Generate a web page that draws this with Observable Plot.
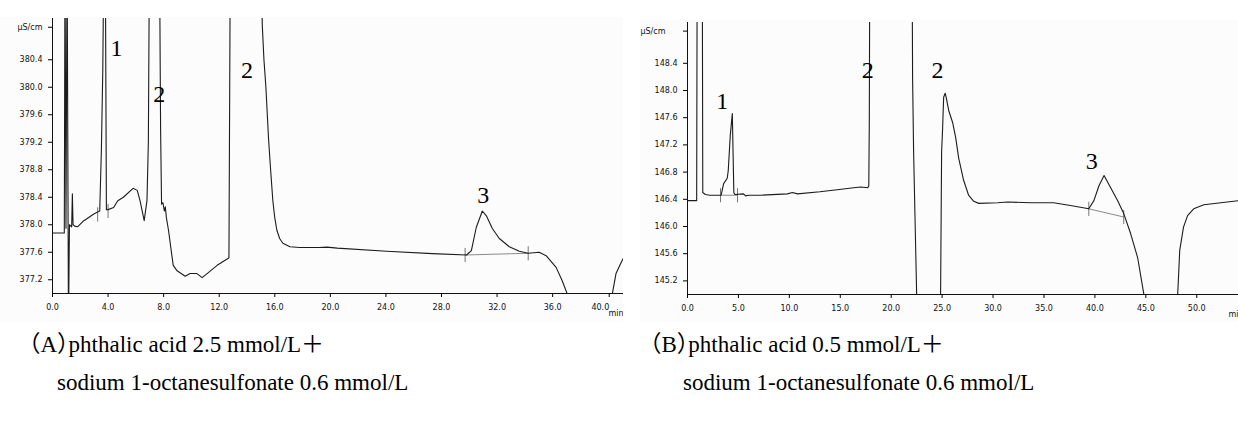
<!DOCTYPE html>
<html><head><meta charset="utf-8">
<script src="https://cdn.jsdelivr.net/npm/d3@7"></script>
<script src="https://cdn.jsdelivr.net/npm/@observablehq/plot@0.6"></script>
<style>
html,body{margin:0;padding:0;background:#fff;}
body{width:1238px;height:423px;overflow:hidden;position:relative;}
#chartA{position:absolute;left:0;top:17px;}
#chartB{position:absolute;left:640px;top:20px;}
.cap{position:absolute;font-family:"Liberation Serif","Noto Sans CJK SC",serif;font-size:23px;color:#000;white-space:nowrap;line-height:30px;font-feature-settings:"halt";}
</style></head><body>
<div id="chartA"></div><div id="chartB"></div>
<div class="cap" id="capA1" style="left:29px;top:330px"></div>
<div class="cap" id="capA2" style="left:57px;top:368px"></div>
<div class="cap" id="capB1" style="left:650px;top:330px"></div>
<div class="cap" id="capB2" style="left:683px;top:368px"></div>
<script>
// ---------- Chart A : phthalic acid 2.5 mmol/L ----------
const xTicksA = [0, 4, 8, 12, 16, 20, 24, 28, 32, 36];
const xLastTickA = [40];
const yTicksA = [377.2, 377.6, 378.0, 378.4, 378.8, 379.2, 379.6, 380.0, 380.4];
const unitTickA = [380.8];
const timeA = [0, 0.85, 0.9, 0.97, 1.05, 1.15, 1.22, 1.38, 1.43, 1.48, 1.6, 1.8, 2.2, 2.5, 3.0, 3.4,
  3.52, 3.62, 3.7, 3.8, 3.88, 4.0, 4.4, 4.7, 5.1, 5.8, 6.1, 6.3, 6.6, 6.8, 6.9, 6.98,
  7.7, 7.78, 7.85, 7.95, 8.05, 8.12, 8.2, 8.35, 8.54, 8.69, 8.97, 9.55, 9.9, 10.4, 10.77, 11.13, 11.85, 12.63, 12.7, 12.8,
  15.0, 15.1, 15.22, 15.36, 15.55, 15.7, 15.86, 16.0, 16.15, 16.35, 16.58, 17.09, 17.8, 19.2, 19.75, 20.5,
  24.05, 27.35, 29.8, 30.15, 30.5, 30.94, 31.23, 31.66, 32.16, 32.88, 33.6, 34.24, 35.03, 35.53, 36.25, 36.68, 37.04, 37.3,
  40.1, 40.3, 40.56, 41.0, 41.2];
const signalA = [377.88, 377.88, 382, 377.95, 382, 376.5, 378.0, 377.97, 378.45, 378.0, 377.98, 377.97, 378.05, 378.09, 378.16, 378.2,
  379.1, 380.25, 382, 382, 378.22, 378.22, 378.25, 378.35, 378.4, 378.53, 378.5, 378.35, 378.06, 378.35, 379.2, 382,
  382, 379.4, 378.3, 378.32, 378.2, 378.26, 378.1, 377.92, 377.63, 377.41, 377.33, 377.25, 377.29, 377.29, 377.23, 377.29, 377.41, 377.51, 377.52, 382,
  382, 380.9, 380.4, 380.0, 379.25, 378.8, 378.35, 378.1, 377.92, 377.8, 377.73, 377.68, 377.67, 377.67, 377.675, 377.66,
  377.615, 377.58, 377.56, 377.625, 377.96, 378.2, 378.13, 377.945, 377.8, 377.68, 377.615, 377.586, 377.6, 377.55, 377.38, 377.19, 377.0, 376.6,
  376.6, 377.0, 377.29, 377.48, 377.55];
const markTimeA = [3.25, 4.0, 29.7, 34.24];
const markSignalA = [378.15, 378.2, 377.56, 377.585];
const baseTimeA = [29.7, 34.24];
const baseSignalA = [377.56, 377.585];
const peakNameA = ["1", "2", "2", "3"];
const peakTimeA = [4.6, 7.68, 14.0, 31.0];
const peakSignalA = [380.56, 379.9, 380.24, 378.43];

// ---------- Chart B : phthalic acid 0.5 mmol/L ----------
const xTicksB = [0, 5, 10, 15, 20, 25, 30, 35, 40, 45, 50];
const yTicksB = [145.2, 145.6, 146.0, 146.4, 146.8, 147.2, 147.6, 148.0, 148.4];
const unitTickB = [148.8];
const timeB = [0, 0.9, 0.95, 1.45, 1.5, 1.75, 2.2, 3.3, 3.55, 3.9, 4.0, 4.2, 4.4, 4.55, 4.65, 5.5, 5.7, 6.0, 7.2, 9.8, 10.3, 10.8,
  13.0, 14.7, 16.3, 17.0, 17.7, 17.8, 17.82, 17.85, 17.9, 22.05, 22.1, 22.2, 22.5, 22.6, 24.8, 24.85, 24.95, 25.05, 25.15, 25.3, 25.4,
  25.64, 26.03, 26.33, 26.62, 27.11, 27.6, 28.1, 28.6, 30.45, 31.4, 33.7, 35.95, 37.6, 39.4, 39.9, 40.4, 40.9, 41.55, 42.24, 42.83,
  43.5, 44.2, 44.8, 45.1, 47.9, 48.13, 48.33, 48.7, 49.1, 49.7, 50.7, 52.36, 54.1];
const signalB = [146.38, 146.38, 150, 150, 146.5, 146.47, 146.46, 146.46, 146.63, 146.71, 146.82, 147.34, 147.66, 146.5, 146.47, 146.48, 146.45, 146.46, 146.46, 146.48, 146.5, 146.48,
  146.51, 146.54, 146.57, 146.58, 146.57, 146.6, 146.97, 147.51, 150, 150, 148.2, 147.1, 145.0, 144.5, 144.5, 145.0, 147.1, 147.45, 147.9, 147.96, 147.9,
  147.71, 147.53, 147.31, 147.01, 146.68, 146.46, 146.37, 146.34, 146.35, 146.36, 146.35, 146.35, 146.31, 146.26, 146.38, 146.6, 146.75, 146.57, 146.38, 146.19,
  145.9, 145.54, 145.01, 144.6, 144.6, 145.0, 145.65, 145.99, 146.16, 146.26, 146.32, 146.35, 146.38];
const markTimeB = [3.24, 4.91, 39.4, 42.83];
const markSignalB = [146.46, 146.46, 146.26, 146.14];
const baseTimeB1 = [3.24, 4.91];
const baseSignalB1 = [146.46, 146.46];
const baseTimeB3 = [39.4, 42.83];
const baseSignalB3 = [146.26, 146.14];
const peakNameB = ["1", "2", "2", "3"];
const peakTimeB = [3.4, 17.7, 24.55, 39.7];
const peakSignalB = [147.84, 148.29, 148.29, 146.96];

const captionA = ["（A）phthalic acid 2.5 mmol/L＋", "sodium 1-octanesulfonate 0.6 mmol/L"];
const captionB = ["（B）phthalic acid 0.5 mmol/L＋", "sodium 1-octanesulfonate 0.6 mmol/L"];

// ---------- helpers ----------
const vtick = {draw(ctx, size) { const h = Math.sqrt(size); ctx.moveTo(0, -h); ctx.lineTo(0, h); }};
const zip = (xs, ys) => xs.map((x, i) => ({x, y: ys[i]}));
const axisFont = {fontSize: 8, fill: "#111", label: null};

function chromatogram(cfg) {
  const trace = zip(cfg.time, cfg.signal);
  const peaks = cfg.peakName.map((n, i) => ({n, x: cfg.peakTime[i], y: cfg.peakSignal[i]}));
  const marks = [
    Plot.ruleX([cfg.xDomain[0]], {stroke: "#111", strokeWidth: 1}),
    Plot.ruleY([cfg.yDomain[0]], {stroke: "#111", strokeWidth: 1}),
    Plot.axisY({ticks: cfg.yTicks, tickSize: 4, tickPadding: 6, tickFormat: d => d.toFixed(1), ...axisFont}),
    Plot.axisY({ticks: cfg.unitTick, tickSize: 4, tickPadding: 6 + cfg.unitDx, tickFormat: () => "μS/cm", dy: -5, ...axisFont}),
    Plot.axisX({ticks: cfg.xTicks, tickSize: 4, tickPadding: 7, tickFormat: d => d.toFixed(1), ...axisFont}),
    ...cfg.extraMarks,
    Plot.text(["min"], {frameAnchor: "bottom-right", textAnchor: cfg.minAnchor, dx: cfg.minDx, dy: 22, fontSize: 8, fill: "#111"}),
    ...cfg.baselines.map(b => Plot.line(zip(b[0], b[1]), {x: "x", y: "y", stroke: "#8a8a8a", strokeWidth: 1, clip: true})),
    Plot.dot(zip(cfg.markTime, cfg.markSignal), {x: "x", y: "y", symbol: vtick, r: 4, stroke: "#777", fill: "none", strokeWidth: 1}),
    Plot.line(trace, {x: "x", y: "y", stroke: "#1c1c1c", strokeWidth: 1.1, clip: true}),
    Plot.text(peaks, {x: "x", y: "y", text: "n", fontSize: 24, fontFamily: "Liberation Serif, serif", fill: "#000"})
  ];
  return Plot.plot({
    width: cfg.width, height: cfg.height,
    marginLeft: cfg.ml, marginRight: cfg.mr, marginTop: cfg.mt, marginBottom: cfg.mb,
    style: {background: "#fcfcfc", fontFamily: "DejaVu Sans, sans-serif", overflow: "hidden"},
    x: {domain: cfg.xDomain, label: null},
    y: {domain: cfg.yDomain, label: null},
    marks
  });
}

const plotA = chromatogram({
  time: timeA, signal: signalA, xDomain: [0, 41.1], yDomain: [377.0, 381.0],
  xTicks: xTicksA, yTicks: yTicksA, unitTick: unitTickA, unitDx: 0,
  extraMarks: [Plot.axisX({ticks: xLastTickA, tickSize: 4, tickPadding: 7, textAnchor: "end", dx: 1, tickFormat: d => d.toFixed(1), ...axisFont})],
  markTime: markTimeA, markSignal: markSignalA, baselines: [[baseTimeA, baseSignalA]],
  peakName: peakNameA, peakTime: peakTimeA, peakSignal: peakSignalA,
  minAnchor: "end", minDx: 0,
  width: 623, height: 305, ml: 52, mr: 0, mt: 1, mb: 29
});
document.getElementById("chartA").appendChild(plotA);

const plotB = chromatogram({
  time: timeB, signal: signalB, xDomain: [0, 54.1], yDomain: [145.0, 149.0],
  xTicks: xTicksB, yTicks: yTicksB, unitTick: unitTickB, unitDx: 12,
  extraMarks: [],
  markTime: markTimeB, markSignal: markSignalB, baselines: [[baseTimeB1, baseSignalB1], [baseTimeB3, baseSignalB3]],
  peakName: peakNameB, peakTime: peakTimeB, peakSignal: peakSignalB,
  minAnchor: "start", minDx: -10,
  width: 598, height: 302, ml: 47, mr: 0, mt: 2, mb: 28
});
document.getElementById("chartB").appendChild(plotB);

document.getElementById("capA1").textContent = captionA[0];
document.getElementById("capA2").textContent = captionA[1];
document.getElementById("capB1").textContent = captionB[0];
document.getElementById("capB2").textContent = captionB[1];
</script>
</body></html>
